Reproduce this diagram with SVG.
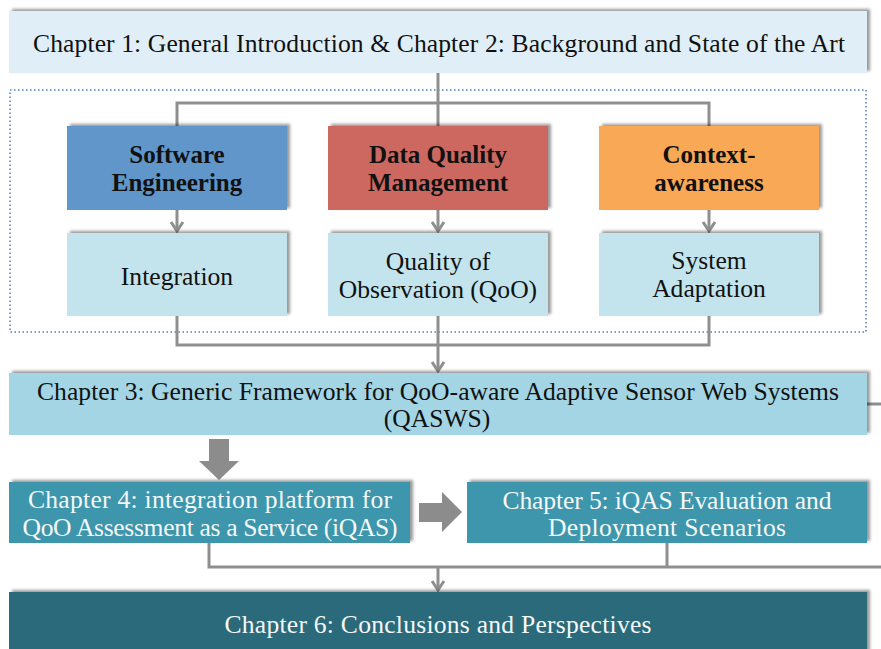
<svg xmlns="http://www.w3.org/2000/svg" width="881" height="649" viewBox="0 0 881 649">
  <style>
    text { font-family: "Liberation Serif", "Times New Roman", serif; font-size: 25.6px; text-anchor: middle; fill: #111; }
    .bold { font-weight: bold; font-size: 25px; }
    .light { fill: #f4f8f9; }
    .box { filter: url(#shadow); }
    .conn { fill: none; stroke: #8f8f8f; stroke-width: 3; }
    .block { fill: #8c8c8c; }
  </style>
  <defs>
    <filter id="shadow" x="-5%" y="-20%" width="110%" height="140%">
      <feDropShadow dx="3" dy="-2" stdDeviation="1.5" flood-color="#000" flood-opacity="0.4"/>
    </filter>
    <marker id="chev" markerUnits="userSpaceOnUse" markerWidth="16" markerHeight="16" viewBox="-10 -8 12 16" refX="0" refY="0" orient="auto" overflow="visible">
      <path d="M-9,-6 L0,0 L-9,6" fill="none" stroke="#8f8f8f" stroke-width="3"/>
    </marker>
  </defs>

  <rect width="881" height="649" fill="#ffffff"/>

  <!-- dotted frame around the three research axes -->
  <rect x="10" y="90" width="856" height="242" fill="none" stroke="#4a7ebb" stroke-width="1.5" stroke-dasharray="1.5 2.5"/>

  <!-- connectors -->
  <g id="connectors">
    <path class="conn" d="M438,73 V126"/>
    <path class="conn" d="M177,126 V103 H709 V126"/>
    <path class="conn" d="M177,210 V231" marker-end="url(#chev)"/>
    <path class="conn" d="M438,210 V231" marker-end="url(#chev)"/>
    <path class="conn" d="M709,210 V231" marker-end="url(#chev)"/>
    <path class="conn" d="M177,316 V345 H709 V316"/>
    <path class="conn" d="M438,316 V371" marker-end="url(#chev)"/>
    <path class="conn" d="M867,404 H881"/>
    <path class="conn" d="M209,543 V567 H881"/>
    <path class="conn" d="M667,543 V567"/>
    <path class="conn" d="M438,567 V590" marker-end="url(#chev)"/>
    <polygon class="block" points="209,439 229,439 229,461 239,461 219,480 199,461 209,461"/>
    <polygon class="block" points="419,503 442,503 442,492 462,512 442,532 442,522 419,522"/>
  </g>

  <g id="ch1">
    <rect class="box" x="9" y="11" width="858" height="62" fill="#e0eff7"/>
    <text x="439" y="52" textLength="812">Chapter 1: General Introduction &amp; Chapter 2: Background and State of the Art</text>
  </g>

  <g id="software-engineering">
    <rect class="box" x="67" y="126" width="220" height="84" fill="#6096c9"/>
    <text class="bold" x="177" y="163">Software</text>
    <text class="bold" x="177" y="191">Engineering</text>
  </g>

  <g id="data-quality">
    <rect class="box" x="328" y="126" width="220" height="84" fill="#cd6760"/>
    <text class="bold" x="438" y="163">Data Quality</text>
    <text class="bold" x="438" y="191">Management</text>
  </g>

  <g id="context-awareness">
    <rect class="box" x="599" y="126" width="220" height="84" fill="#f9a856"/>
    <text class="bold" x="709" y="163">Context-</text>
    <text class="bold" x="709" y="191">awareness</text>
  </g>

  <g id="integration">
    <rect class="box" x="67" y="233" width="220" height="83" fill="#c3e4ed"/>
    <text x="177" y="285">Integration</text>
  </g>

  <g id="qoo">
    <rect class="box" x="328" y="233" width="220" height="83" fill="#c3e4ed"/>
    <text x="438" y="270">Quality of</text>
    <text x="438" y="298">Observation (QoO)</text>
  </g>

  <g id="adaptation">
    <rect class="box" x="599" y="233" width="220" height="83" fill="#c3e4ed"/>
    <text x="709" y="269">System</text>
    <text x="709" y="297">Adaptation</text>
  </g>

  <g id="ch3">
    <rect class="box" x="9" y="373" width="858" height="62" fill="#a3d5e4"/>
    <text x="438" y="400" textLength="802">Chapter 3: Generic Framework for QoO-aware Adaptive Sensor Web Systems</text>
    <text x="437" y="427">(QASWS)</text>
  </g>

  <g id="ch4">
    <rect class="box" x="9" y="482" width="401" height="61" fill="#3d96ab"/>
    <text class="light" x="210" y="508" textLength="364">Chapter 4: integration platform for</text>
    <text class="light" x="210" y="536" textLength="375">QoO Assessment as a Service (iQAS)</text>
  </g>

  <g id="ch5">
    <rect class="box" x="467" y="482" width="400" height="61" fill="#3d96ab"/>
    <text class="light" x="667" y="509" textLength="329">Chapter 5: iQAS Evaluation and</text>
    <text class="light" x="667" y="536" textLength="238">Deployment Scenarios</text>
  </g>

  <g id="ch6">
    <rect class="box" x="9" y="592" width="858" height="62" fill="#2a6a7a"/>
    <text class="light" x="438" y="633" textLength="427">Chapter 6: Conclusions and Perspectives</text>
  </g>
</svg>
